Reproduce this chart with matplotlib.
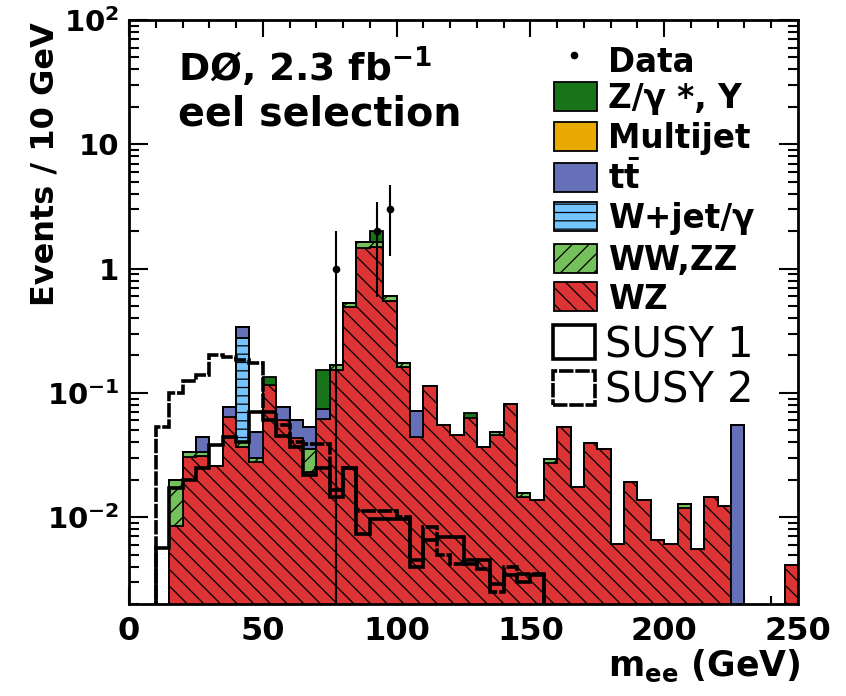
import numpy as np
import matplotlib
matplotlib.use("Agg")
import matplotlib.pyplot as plt
from matplotlib.patches import Rectangle
from matplotlib.lines import Line2D
from matplotlib.ticker import MultipleLocator, LogLocator, FuncFormatter, NullFormatter

plt.rcParams.update({
    "font.family": ["DejaVu Sans"],
    "font.weight": "bold",
    "mathtext.fontset": "dejavusans",
    "mathtext.default": "bf",
    "hatch.linewidth": 0.9,
    "hatch.color": "black",
    "axes.linewidth": 2.0,
})

# ---------------- data (5 GeV bins, 0-250 GeV) ----------------
bin_edges = np.arange(0, 255, 5)

wz = [0, 0, 0, 0.0085, 0.0305, 0.031, 0.026, 0.064, 0.037, 0.028,
      0.115, 0.060, 0.043, 0.023, 0.062, 0.154, 0.494, 1.46, 1.49, 0.553,
      0.160, 0.0442, 0.113, 0.0549, 0.0456, 0.063, 0.0365, 0.0456, 0.081, 0.0145,
      0.0138, 0.0273, 0.053, 0.0176, 0.0395, 0.0355, 0.0061, 0.0191, 0.0138, 0.0066,
      0.0061, 0.0119, 0.0055, 0.0145, 0.0123, 0, 0, 0, 0, 0.0041]
wwzz = [0, 0, 0, 0.0113, 0.003, 0.0025, 0, 0, 0.003, 0.0018,
        0, 0, 0, 0.0125, 0, 0.013, 0.038, 0.19, 0.16, 0.049,
        0.015, 0, 0, 0, 0, 0, 0, 0.003, 0, 0.0011,
        0, 0.0023, 0, 0, 0, 0, 0, 0, 0, 0,
        0, 0.0008, 0, 0, 0, 0, 0, 0, 0, 0]
wjet = [0, 0, 0, 0, 0, 0, 0, 0, 0.235, 0] + [0] * 40
ttbar = [0, 0, 0, 0, 0, 0.0105, 0, 0.013, 0.066, 0.019,
         0, 0.017, 0.017, 0.0175, 0.0127, 0, 0, 0, 0, 0,
         0, 0.027, 0, 0, 0, 0, 0, 0, 0, 0,
         0, 0, 0, 0, 0, 0, 0, 0, 0, 0,
         0, 0, 0, 0, 0, 0.055, 0, 0, 0, 0]
multijet = [0] * 50
zgamma = [0, 0, 0, 0, 0, 0, 0, 0, 0, 0,
          0.018, 0, 0, 0, 0.077, 0, 0, 0, 0.34, 0,
          0, 0, 0, 0, 0, 0.006, 0, 0, 0, 0] + [0] * 20

susy1 = [0, 0, 0.0056, 0.017, 0.020, 0.025, 0.038, 0.044, 0.040, 0.070,
         0.060, 0.045, 0.037, 0.022, 0.025, 0.0145, 0.025, 0.0073, 0.0096, 0.0096,
         0.0096, 0.0040, 0.0065, 0.0069, 0.0069, 0.0042, 0.0045, 0.0029, 0.0034, 0.0030,
         0.0034] + [0] * 19
susy2 = [0, 0, 0.053, 0.10, 0.125, 0.14, 0.20, 0.195, 0.185, 0.173,
         0.070, 0.055, 0.040, 0.039, 0.039, 0.0164, 0.025, 0.0112, 0.0112, 0.0112,
         0.0100, 0.0045, 0.0083, 0.0050, 0.0042, 0.0045, 0.0038, 0.0025, 0.0040, 0.0035,
         0.0035] + [0] * 19

data_counts = [0] * 15 + [1, 0, 0, 2, 3] + [0] * 30

# ---------------- figure ----------------
W, H = 846, 696
fig = plt.figure(figsize=(W / 100, H / 100), dpi=100)
ax = fig.add_axes([129 / W, 1 - 604 / H, 669 / W, 584 / H])
ax.set_yscale("log")
ax.set_xlim(0, 250)
ax.set_ylim(0.002, 100)

floor = 1e-6
hatch_wz, hatch_ww, hatch_wj = "\\\\", "//", "--"
stack = [
    (wz, "#dc3434", hatch_wz),
    (wwzz, "#74c05a", hatch_ww),
    (wjet, "#74c4ff", hatch_wj),
    (ttbar, "#6670b8", None),
    (multijet, "#e8aa00", None),
    (zgamma, "#187418", None),
]
bottom = np.full(len(wz), floor)
for vals, col, hatch in stack:
    top = bottom + np.asarray(vals, dtype=float)
    ax.stairs(top, bin_edges, baseline=bottom, fill=True, facecolor=col,
              edgecolor="black", linewidth=1.3, hatch=hatch, zorder=2)
    bottom = top

dash2 = (0, (4, 0.5))
s1 = np.asarray(susy1, dtype=float)
s2 = np.asarray(susy2, dtype=float)
ax.stairs(np.where(s1 > 0, s1, floor), bin_edges, baseline=floor, fill=False,
          color="black", linewidth=2.6, zorder=5)
ax.stairs(np.where(s2 > 0, s2, floor), bin_edges, baseline=floor, fill=False,
          color="black", linewidth=2.6, linestyle=dash2, zorder=5)

# data with sqrt(N) errors
d = np.asarray(data_counts, dtype=float)
centers = 0.5 * (bin_edges[:-1] + bin_edges[1:])
m = d > 0
err = np.sqrt(d[m])
lower = np.minimum(err, d[m] - 1e-7)
ax.errorbar(centers[m], d[m], yerr=[lower, err], fmt="o", ms=4.5, color="black",
            ecolor="black", elinewidth=1.5, capsize=0, zorder=6)

# ---------------- axes style ----------------
ax.xaxis.set_major_locator(MultipleLocator(50))
ax.xaxis.set_minor_locator(MultipleLocator(10))
ax.yaxis.set_major_locator(LogLocator(base=10, numticks=20))
ax.yaxis.set_minor_locator(LogLocator(base=10, subs=np.arange(2, 10), numticks=20))
ax.yaxis.set_minor_formatter(NullFormatter())


def yfmt(v, pos):
    e = int(round(np.log10(v)))
    if e == 0:
        return "1"
    if e == 1:
        return "10"
    return r"$10^{%d}$" % e


ax.yaxis.set_major_formatter(FuncFormatter(yfmt))
ax.tick_params(which="both", direction="in", top=True, right=True, width=1.5)
ax.xaxis.set_tick_params(which="major", length=12, pad=9, labelsize=23)
ax.xaxis.set_tick_params(which="minor", length=6)
ax.yaxis.set_tick_params(which="major", length=14, pad=7, labelsize=21)
ax.yaxis.set_tick_params(which="minor", length=7)

ax.set_ylabel("Events / 10 GeV", fontsize=23, fontweight="bold")
ax.yaxis.label.set_va("baseline")
ax.yaxis.set_label_coords((53 - 129) / 669, (604 - 164) / 584)
ax.set_xlabel(r"m$_{ee}$ (GeV)", fontsize=25, fontweight="bold")
ax.xaxis.label.set_ha("right")
ax.xaxis.label.set_va("baseline")
ax.xaxis.set_label_coords((800 - 129) / 669, (604 - 676) / 584)


def fx(x):
    return x / W


def fy(y):
    return 1 - y / H


fig.text(fx(178), fy(81), r"DØ, 2.3 fb$^{-1}$", fontsize=27, fontweight="bold",
         va="baseline")
fig.text(fx(178), fy(125), "eel selection", fontsize=28.5, fontweight="bold",
         va="baseline")

# ---------------- legend (manual) ----------------
fig.add_artist(Line2D([fx(574)], [fy(55)], marker="o", ms=4.5, color="black",
                      transform=fig.transFigure))
fig.text(fx(608), fy(60 + 12), "Data", fontsize=23.5, fontweight="bold", va="baseline")

leg_rows = [
    (r"Z/γ *, Y", "#187418", None, 96),
    ("Multijet", "#e8aa00", None, 136),
    (r"t$\bar{t}$", "#6670b8", None, 177),
    (r"W+jet/γ", "#74c4ff", hatch_wj, 216),
    ("WW,ZZ", "#74c05a", hatch_ww, 258),
    ("WZ", "#dc3434", hatch_wz, 297),
]
for label, col, hatch, yc in leg_rows:
    fig.add_artist(Rectangle((fx(554), fy(yc + 14.5)), 43 / W, 29 / H,
                             transform=fig.transFigure, facecolor=col,
                             edgecolor="black", linewidth=1.3, hatch=hatch))
    fig.text(fx(608), fy(yc + 12), label, fontsize=23.5, fontweight="bold",
             va="baseline")

for label, ls, yc in [("SUSY 1", "-", 342), ("SUSY 2", dash2, 388)]:
    fig.add_artist(Rectangle((fx(553), fy(yc + 17)), 42 / W, 34 / H,
                             transform=fig.transFigure, facecolor="white",
                             edgecolor="black", linewidth=2.6, linestyle=ls))
    fig.text(fx(605), fy(yc + 15), label, fontsize=30, fontweight="normal",
             va="baseline")

fig.savefig("out.png", dpi=100)
